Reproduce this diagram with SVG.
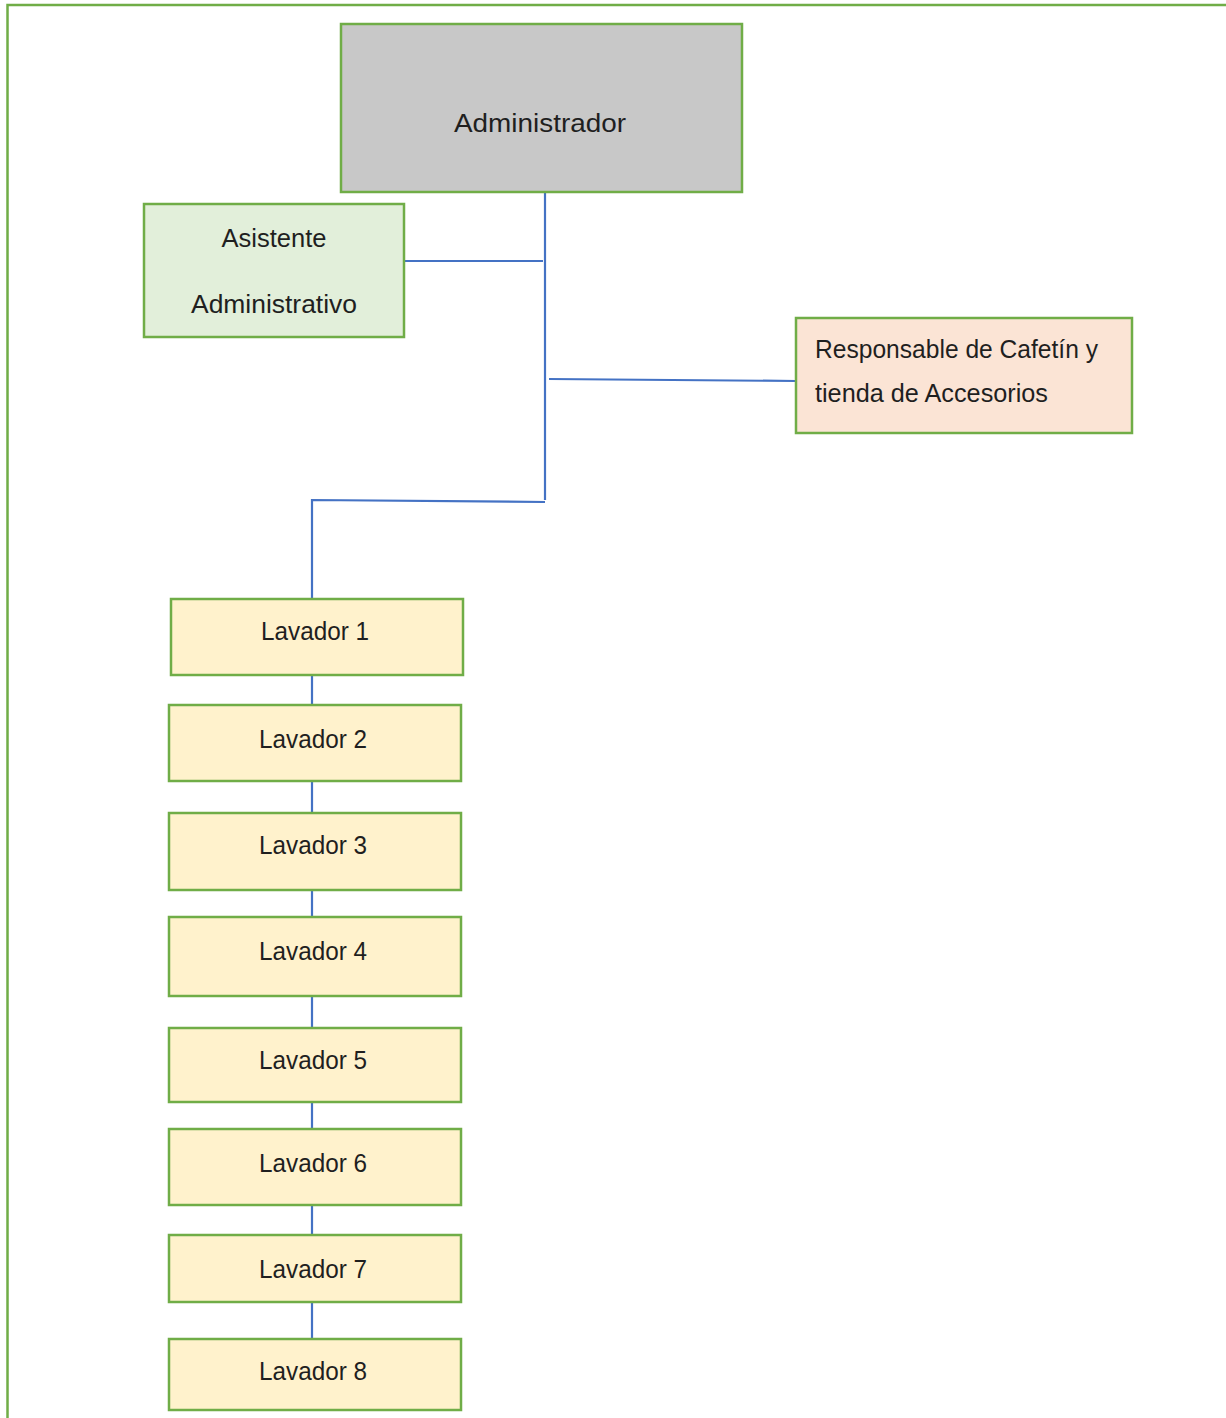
<svg xmlns="http://www.w3.org/2000/svg" width="1226" height="1418" viewBox="0 0 1226 1418">
<style>
.box{stroke:#70AD47;stroke-width:2.5}
.t{font-family:"Liberation Sans",Arial,sans-serif;font-size:25px;fill:#1f1f1f}
.c{text-anchor:middle}
.con{stroke:#4472C4;stroke-width:2.2;fill:none}
.lav{fill:#FFF2CC}
</style>
<rect width="1226" height="1418" fill="#fff"/>
<path d="M7.5 1418 V5 H1226" fill="none" stroke="#70AD47" stroke-width="2.5"/>
<g id="connectors">
<path class="con" d="M545 192 V500"/>
<path class="con" d="M404 261 H543"/>
<path class="con" d="M549 379 L796 381"/>
<path class="con" d="M545 502 L312 500 V599"/>
<path class="con" d="M312 675 V705 M312 781 V813 M312 890 V917 M312 996 V1028 M312 1102 V1129 M312 1205 V1235 M312 1302 V1339"/>
</g>
<g id="administrador"><rect class="box" x="341" y="24" width="401" height="168" fill="#C8C8C8"/><text class="t c" x="540" y="132" font-size="34" textLength="172" lengthAdjust="spacingAndGlyphs">Administrador</text></g>
<g id="asistente"><rect class="box" x="144" y="204" width="260" height="133" fill="#E2EFDA"/><text class="t c" x="274" y="247" font-size="26" textLength="105" lengthAdjust="spacingAndGlyphs">Asistente</text><text class="t c" x="274" y="313" font-size="26" textLength="166" lengthAdjust="spacingAndGlyphs">Administrativo</text></g>
<g id="responsable"><rect class="box" x="796" y="318" width="336" height="115" fill="#FBE4D5"/><text class="t" x="815" y="358" font-size="24" textLength="283" lengthAdjust="spacingAndGlyphs">Responsable de Cafetín y</text><text class="t" x="815" y="402" font-size="24" textLength="233" lengthAdjust="spacingAndGlyphs">tienda de Accesorios</text></g>
<g id="lavador1"><rect class="box lav" x="171" y="599" width="292" height="76"/><text class="t c" x="315" y="640" textLength="108" lengthAdjust="spacingAndGlyphs">Lavador 1</text></g>
<g id="lavador2"><rect class="box lav" x="169" y="705" width="292" height="76"/><text class="t c" x="313" y="748" textLength="108" lengthAdjust="spacingAndGlyphs">Lavador 2</text></g>
<g id="lavador3"><rect class="box lav" x="169" y="813" width="292" height="77"/><text class="t c" x="313" y="854" textLength="108" lengthAdjust="spacingAndGlyphs">Lavador 3</text></g>
<g id="lavador4"><rect class="box lav" x="169" y="917" width="292" height="79"/><text class="t c" x="313" y="960" textLength="108" lengthAdjust="spacingAndGlyphs">Lavador 4</text></g>
<g id="lavador5"><rect class="box lav" x="169" y="1028" width="292" height="74"/><text class="t c" x="313" y="1069" textLength="108" lengthAdjust="spacingAndGlyphs">Lavador 5</text></g>
<g id="lavador6"><rect class="box lav" x="169" y="1129" width="292" height="76"/><text class="t c" x="313" y="1172" textLength="108" lengthAdjust="spacingAndGlyphs">Lavador 6</text></g>
<g id="lavador7"><rect class="box lav" x="169" y="1235" width="292" height="67"/><text class="t c" x="313" y="1278" textLength="108" lengthAdjust="spacingAndGlyphs">Lavador 7</text></g>
<g id="lavador8"><rect class="box lav" x="169" y="1339" width="292" height="71"/><text class="t c" x="313" y="1380" textLength="108" lengthAdjust="spacingAndGlyphs">Lavador 8</text></g>
</svg>
